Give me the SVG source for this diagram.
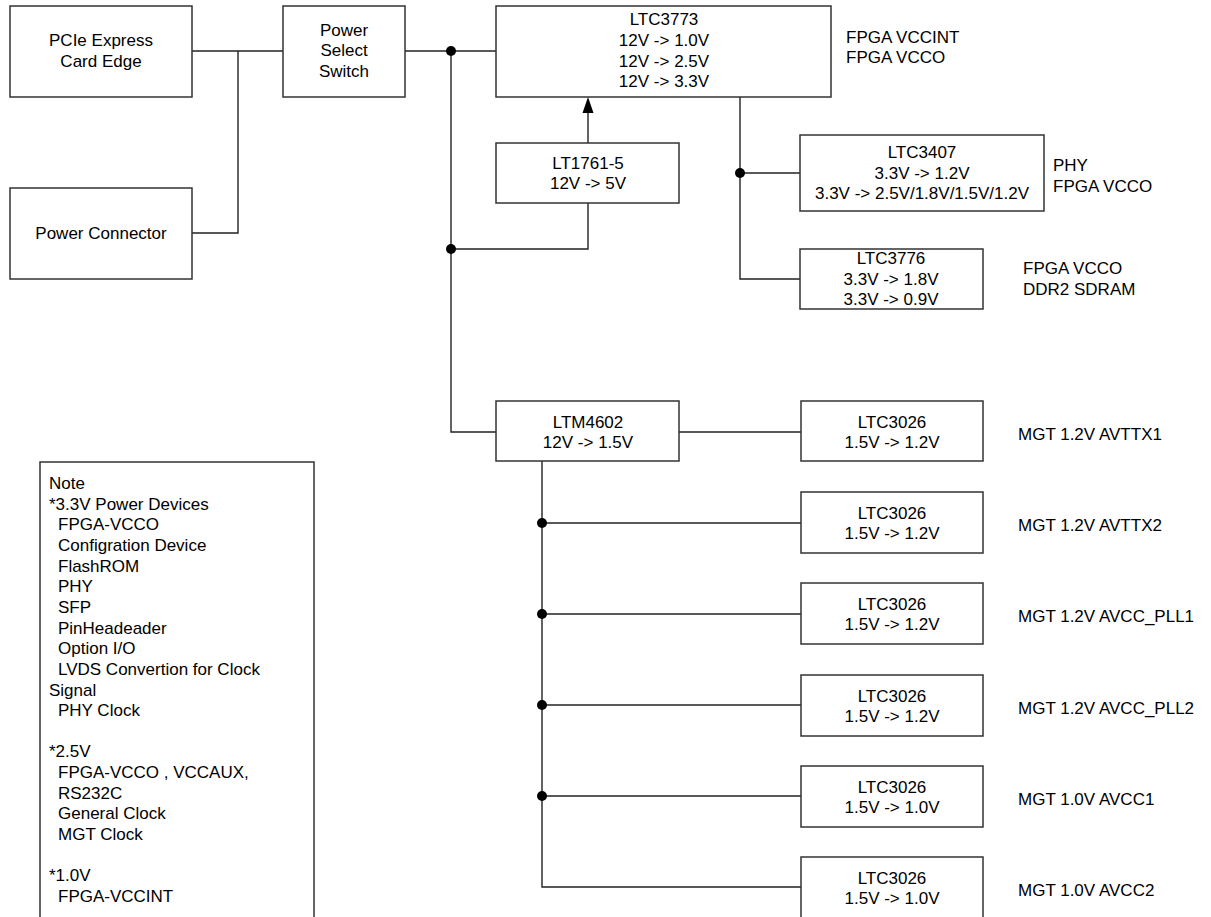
<svg xmlns="http://www.w3.org/2000/svg" width="1211" height="917" viewBox="0 0 1211 917">
<defs>
<style>
.box{fill:#fff;stroke:#333;stroke-width:1.5}
.ln{fill:none;stroke:#222;stroke-width:1.4}
.dot{fill:#000}
text{font-family:"Liberation Sans",Arial,sans-serif;font-size:17px;fill:#000}
.c{text-anchor:middle}
</style>
</defs>
<rect width="1211" height="917" fill="#fff"/>
<g id="connectors">
<polyline class="ln" points="192,51 283,51"/>
<polyline class="ln" points="192,233 238,233 238,51"/>
<polyline class="ln" points="405,51 496,51"/>
<polyline class="ln" points="451,51 451,432 496,432"/>
<polyline class="ln" points="588,143 588,249 451,249" />
<line class="ln" x1="588" y1="143" x2="588" y2="113"/>
<path d="M582.5,113 L588,97 L593.5,113 Z" fill="#000"/>
<polyline class="ln" points="740,97 740,279 800,279"/>
<polyline class="ln" points="740,173 800,173"/>
<polyline class="ln" points="679,432 801,432"/>
<polyline class="ln" points="542,461 542,887 801,887"/>
<line class="ln" x1="542" y1="523" x2="801" y2="523"/>
<line class="ln" x1="542" y1="614" x2="801" y2="614"/>
<line class="ln" x1="542" y1="705" x2="801" y2="705"/>
<line class="ln" x1="542" y1="796" x2="801" y2="796"/>
<circle class="dot" cx="451" cy="51" r="5"/>
<circle class="dot" cx="451" cy="249" r="5"/>
<circle class="dot" cx="740" cy="173" r="5"/>
<circle class="dot" cx="542" cy="523" r="5"/>
<circle class="dot" cx="542" cy="614" r="5"/>
<circle class="dot" cx="542" cy="705" r="5"/>
<circle class="dot" cx="542" cy="796" r="5"/>
</g>
<g id="pcie">
<rect class="box" x="10" y="6" width="182" height="91"/>
<text class="c" x="101" y="46">PCIe Express</text>
<text class="c" x="101" y="67">Card Edge</text>
</g>
<g id="power-connector">
<rect class="box" x="10" y="188" width="182" height="91"/>
<text class="c" x="101" y="239">Power Connector</text>
</g>
<g id="power-select">
<rect class="box" x="283" y="6" width="122" height="91"/>
<text class="c" x="344" y="36">Power</text>
<text class="c" x="344" y="56">Select</text>
<text class="c" x="344" y="77">Switch</text>
</g>
<g id="ltc3773">
<rect class="box" x="496" y="6" width="335" height="91"/>
<text class="c" x="664" y="25">LTC3773</text>
<text class="c" x="664" y="46">12V -&gt; 1.0V</text>
<text class="c" x="664" y="67">12V -&gt; 2.5V</text>
<text class="c" x="664" y="87">12V -&gt; 3.3V</text>
<text x="846" y="43">FPGA VCCINT</text>
<text x="846" y="63">FPGA VCCO</text>
</g>
<g id="lt1761">
<rect class="box" x="496" y="143" width="183" height="60"/>
<text class="c" x="588" y="169">LT1761-5</text>
<text class="c" x="588" y="189">12V -&gt; 5V</text>
</g>
<g id="ltc3407">
<rect class="box" x="800" y="135" width="244" height="76"/>
<text class="c" x="922" y="158">LTC3407</text>
<text class="c" x="922" y="179">3.3V -&gt; 1.2V</text>
<text class="c" x="922" y="199">3.3V -&gt; 2.5V/1.8V/1.5V/1.2V</text>
<text x="1053" y="171">PHY</text>
<text x="1053" y="192">FPGA VCCO</text>
</g>
<g id="ltc3776">
<rect class="box" x="800" y="249" width="183" height="60"/>
<text class="c" x="891" y="264">LTC3776</text>
<text class="c" x="891" y="285">3.3V -&gt; 1.8V</text>
<text class="c" x="891" y="305">3.3V -&gt; 0.9V</text>
<text x="1023" y="274">FPGA VCCO</text>
<text x="1023" y="295">DDR2 SDRAM</text>
</g>
<g id="ltm4602">
<rect class="box" x="496" y="401" width="183" height="60"/>
<text class="c" x="588" y="428">LTM4602</text>
<text class="c" x="588" y="448">12V -&gt; 1.5V</text>
</g>
<g id="ltc3026-1">
<rect class="box" x="801" y="401" width="182" height="60"/>
<text class="c" x="892" y="428">LTC3026</text>
<text class="c" x="892" y="448">1.5V -&gt; 1.2V</text>
<text x="1018" y="440">MGT 1.2V AVTTX1</text>
</g>
<g id="ltc3026-2">
<rect class="box" x="801" y="492" width="182" height="61"/>
<text class="c" x="892" y="519">LTC3026</text>
<text class="c" x="892" y="539">1.5V -&gt; 1.2V</text>
<text x="1018" y="531">MGT 1.2V AVTTX2</text>
</g>
<g id="ltc3026-3">
<rect class="box" x="801" y="583" width="182" height="61"/>
<text class="c" x="892" y="610">LTC3026</text>
<text class="c" x="892" y="630">1.5V -&gt; 1.2V</text>
<text x="1018" y="622">MGT 1.2V AVCC_PLL1</text>
</g>
<g id="ltc3026-4">
<rect class="box" x="801" y="675" width="182" height="61"/>
<text class="c" x="892" y="702">LTC3026</text>
<text class="c" x="892" y="722">1.5V -&gt; 1.2V</text>
<text x="1018" y="714">MGT 1.2V AVCC_PLL2</text>
</g>
<g id="ltc3026-5">
<rect class="box" x="801" y="766" width="182" height="61"/>
<text class="c" x="892" y="793">LTC3026</text>
<text class="c" x="892" y="813">1.5V -&gt; 1.0V</text>
<text x="1018" y="805">MGT 1.0V AVCC1</text>
</g>
<g id="ltc3026-6">
<rect class="box" x="801" y="857" width="182" height="62"/>
<text class="c" x="892" y="884">LTC3026</text>
<text class="c" x="892" y="904">1.5V -&gt; 1.0V</text>
<text x="1018" y="896">MGT 1.0V AVCC2</text>
</g>
<g id="note">
<rect class="box" x="40" y="462" width="274" height="470"/>
<text x="49" y="489">Note</text>
<text x="49" y="510">*3.3V Power Devices</text>
<text x="58" y="530">FPGA-VCCO</text>
<text x="58" y="551">Configration Device</text>
<text x="58" y="572">FlashROM</text>
<text x="58" y="592">PHY</text>
<text x="58" y="613">SFP</text>
<text x="58" y="634">PinHeadeader</text>
<text x="58" y="654">Option I/O</text>
<text x="58" y="675">LVDS Convertion for Clock</text>
<text x="49" y="696">Signal</text>
<text x="58" y="716">PHY Clock</text>
<text x="49" y="757">*2.5V</text>
<text x="58" y="778">FPGA-VCCO , VCCAUX,</text>
<text x="58" y="799">RS232C</text>
<text x="58" y="819">General Clock</text>
<text x="58" y="840">MGT Clock</text>
<text x="49" y="881">*1.0V</text>
<text x="58" y="902">FPGA-VCCINT</text>
</g>
</svg>
